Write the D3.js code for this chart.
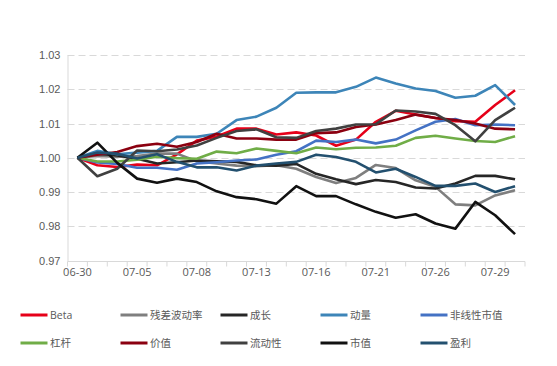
<!DOCTYPE html>
<html>
<head>
<meta charset="utf-8">
<script src="https://cdn.jsdelivr.net/npm/d3@7"></script>
<style>
  html, body { margin: 0; padding: 0; background: #fff; }
  svg { display: block; font-family: "Open Sans", "Noto Sans CJK SC", sans-serif; }
  .tick-label { fill: #595959; font-size: 11px; }
  .legend-label { fill: #595959; font-size: 10.5px; }
</style>
</head>
<body>
<div id="chart"></div>
<script>
// trading days, Jun 30 - Jul 30
const dates = ["06-30", "07-01", "07-02", "07-05", "07-06", "07-07", "07-08", "07-09", "07-12", "07-13", "07-14", "07-15",
  "07-16", "07-19", "07-20", "07-21", "07-22", "07-23", "07-26", "07-27", "07-28", "07-29", "07-30"];
const labelEvery = 3;
const yTicks = [0.97, 0.98, 0.99, 1.00, 1.01, 1.02, 1.03];

const beta = [1.000, 0.9978, 0.9973, 0.998, 0.9978, 1.001, 1.005, 1.0062, 1.0085, 1.0085, 1.0068, 1.0074,
  1.0065, 1.0035, 1.0053, 1.0105, 1.0137, 1.0126, 1.0116, 1.0107, 1.0105, 1.0154, 1.0197];
const residualVol = [1.000, 1.0005, 1.0003, 1.0005, 1.0012, 1.0012, 0.999, 0.9983, 0.9977, 0.9975, 0.9978, 0.9968,
  0.9944, 0.9926, 0.9941, 0.9979, 0.997, 0.9934, 0.9915, 0.9864, 0.9861, 0.989, 0.9905];
const growth = [1.000, 1.0012, 1.0007, 0.9997, 0.9983, 0.9987, 0.9992, 0.999, 0.9988, 0.9978, 0.9977, 0.9982,
  0.9953, 0.9937, 0.9923, 0.9935, 0.9929, 0.9913, 0.991, 0.9925, 0.9947, 0.9947, 0.9937];
const momentum = [1.000, 1.002, 1.001, 1.0015, 1.002, 1.0061, 1.0061, 1.007, 1.011, 1.012, 1.0146, 1.019,
  1.0191, 1.0191, 1.0207, 1.0234, 1.0217, 1.0202, 1.0195, 1.0175, 1.0181, 1.0212, 1.0154];
const nonlinearSize = [1.000, 0.9986, 0.9982, 0.9971, 0.9971, 0.9965, 0.9983, 0.9987, 0.9992, 0.9995, 1.0009, 1.0019,
  1.005, 1.0046, 1.0053, 1.0042, 1.0053, 1.008, 1.0105, 1.0113, 1.0095, 1.0097, 1.0095];
const leverage = [1.000, 0.9989, 0.9989, 0.9994, 1.0003, 0.9999, 0.9997, 1.0018, 1.0013, 1.0027, 1.002, 1.0013,
  1.003, 1.0025, 1.0029, 1.003, 1.0035, 1.0058, 1.0064, 1.0056, 1.0049, 1.0046, 1.0063];
const value = [1.000, 1.0009, 1.0017, 1.0034, 1.0041, 1.0032, 1.0046, 1.007, 1.0056, 1.0056, 1.0053, 1.0053,
  1.0072, 1.0074, 1.009, 1.0097, 1.011, 1.0126, 1.0116, 1.011, 1.01, 1.0085, 1.0083];
const liquidity = [1.000, 0.9946, 0.9968, 1.0021, 1.0019, 1.0024, 1.0036, 1.0058, 1.0078, 1.0083, 1.006, 1.0058,
  1.0078, 1.0085, 1.0097, 1.0098, 1.0138, 1.0135, 1.0128, 1.0095, 1.0048, 1.011, 1.0146];
const size = [1.000, 1.0044, 0.9985, 0.9939, 0.9927, 0.9939, 0.9929, 0.9902, 0.9885, 0.9879, 0.9866, 0.9917,
  0.9888, 0.9888, 0.9864, 0.9842, 0.9825, 0.9835, 0.9808, 0.9793, 0.9871, 0.9832, 0.9777];
const earnings = [1.000, 1.0015, 1.0012, 0.9998, 1.001, 0.9988, 0.9972, 0.9972, 0.9963, 0.9977, 0.9983, 0.9988,
  1.0009, 1.0002, 0.9988, 0.9957, 0.9968, 0.9944, 0.9918, 0.9918, 0.9925, 0.99, 0.9917];

const seriesNames = ["Beta", "残差波动率", "成长", "动量", "非线性市值", "杠杆", "价值", "流动性", "市值", "盈利"];
const seriesValues = [beta, residualVol, growth, momentum, nonlinearSize, leverage, value, liquidity, size, earnings];
const seriesColors = ["#e60019", "#7f7f7f", "#262626", "#3d85b8", "#4472c4", "#70ad47", "#8b0010", "#404040", "#111111", "#23506f"];

const width = 557, height = 366;
const margin = { top: 55, right: 32, bottom: 105.5, left: 67.5 };

const svg = d3.select("#chart").append("svg").attr("width", width).attr("height", height);

const x = d3.scaleBand().domain(dates).range([margin.left, width - margin.right]).padding(0);
const y = d3.scaleLinear().domain([0.97, 1.03]).range([height - margin.bottom, margin.top]);
const cx = (d) => x(d) + x.bandwidth() / 2;

// dashed grid
svg.append("g")
  .selectAll("line")
  .data(yTicks.filter((t) => t > 0.97))
  .join("line")
  .attr("x1", margin.left)
  .attr("x2", width - margin.right)
  .attr("y1", (d) => Math.round(y(d)) + 0.5)
  .attr("y2", (d) => Math.round(y(d)) + 0.5)
  .attr("stroke", "#d9d9d9")
  .attr("stroke-dasharray", "7,4");

// y axis
const yAxis = svg.append("g").attr("transform", `translate(${margin.left},0)`)
  .call(d3.axisLeft(y).tickValues(yTicks).tickFormat(d3.format(".2f")).tickSize(0).tickPadding(7));
yAxis.select(".domain").attr("stroke", "#d9d9d9");
yAxis.selectAll("text").attr("class", "tick-label").attr("font-family", null).attr("font-size", null);

// x axis: ticks on band boundaries, labels every third day
const xAxisY = Math.round(y(0.97)) + 0.5;
const xAxis = svg.append("g").attr("transform", `translate(0,${xAxisY})`);
xAxis.append("line").attr("x1", margin.left).attr("x2", width - margin.right).attr("stroke", "#d9d9d9");
xAxis.selectAll(".xt")
  .data(dates.concat([null]))
  .join("line")
  .attr("x1", (d, i) => margin.left + i * x.bandwidth())
  .attr("x2", (d, i) => margin.left + i * x.bandwidth())
  .attr("y1", 0).attr("y2", 5)
  .attr("stroke", "#d9d9d9");
xAxis.selectAll("text")
  .data(dates.filter((d, i) => i % labelEvery === 0))
  .join("text")
  .attr("class", "tick-label")
  .attr("x", (d) => cx(d))
  .attr("y", 14)
  .attr("text-anchor", "middle")
  .text((d) => d);

// lines
const line = d3.line().x((d, i) => cx(dates[i])).y((d) => y(d));
svg.append("g")
  .selectAll("path")
  .data(seriesValues)
  .join("path")
  .attr("d", (d) => line(d))
  .attr("fill", "none")
  .attr("stroke", (d, i) => seriesColors[i])
  .attr("stroke-width", 2.6)
  .attr("stroke-linejoin", "round");

// legend, 5 per row
const legend = svg.append("g");
const item = legend.selectAll("g")
  .data(seriesNames)
  .join("g")
  .attr("transform", (d, i) => `translate(${20.5 + (i % 5) * 100},${315 + Math.floor(i / 5) * 28})`);
item.append("line")
  .attr("x1", 0).attr("x2", 27)
  .attr("stroke", (d, i) => seriesColors[i])
  .attr("stroke-width", 3);
item.append("text")
  .attr("class", "legend-label")
  .attr("x", 29.5)
  .attr("dy", "0.35em")
  .text((d) => d);
</script>
</body>
</html>
